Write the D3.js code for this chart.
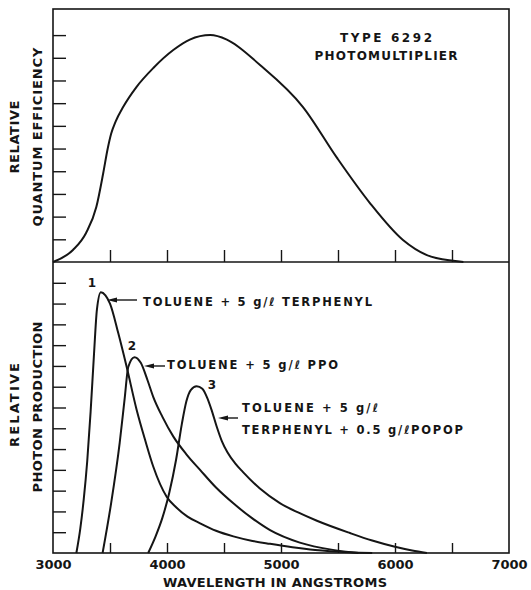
<!DOCTYPE html>
<html>
<head>
<meta charset="utf-8">
<script src="https://cdn.jsdelivr.net/npm/d3@7"></script>
<style>
  body { margin: 0; background: #fff; }
  text { font-family: "DejaVu Sans", sans-serif; font-weight: bold; fill: #151515; }
</style>
</head>
<body>
<div class="container"></div>
<script>
// photomultiplier response and scintillator spectra

var width = 531;
var height = 590;

// top panel: quantum efficiency of the 6292
var qeWave = [3000, 3175, 3290, 3380, 3440, 3480, 3510, 3550, 3615, 3730, 3880, 4055, 4200, 4380, 4525, 4816, 5193, 5490, 5780, 6070, 6280, 6510, 6600];
var qeValue = [0, 0.53, 1.28, 2.42, 3.9, 5.0, 5.65, 6.2, 6.83, 7.7, 8.55, 9.34, 9.8, 10, 9.8, 8.68, 6.83, 4.6, 2.6, 0.97, 0.3, 0.05, 0];

// bottom panel: photon production, curves 1-3
var wave1 = [3205, 3240, 3270, 3300, 3330, 3360, 3385, 3420, 3460, 3500, 3573, 3646, 3734, 3810, 3880, 3997, 4080, 4180, 4290, 4430, 4582, 4750, 4904, 5100, 5300, 5600, 5800];
var value1 = [0, 1.2, 2.6, 4.4, 6.8, 9.6, 11.7, 12.55, 12.4, 12.0, 10.57, 8.96, 6.88, 5.4, 4.15, 2.71, 2.2, 1.75, 1.43, 1.07, 0.8, 0.58, 0.44, 0.28, 0.15, 0.04, 0];

var wave2 = [3435, 3510, 3585, 3630, 3660, 3715, 3770, 3830, 3880, 3960, 4056, 4170, 4290, 4430, 4582, 4740, 4904, 5165, 5455, 5680];
var value2 = [0, 2.4, 5.3, 7.5, 8.95, 9.42, 9.15, 8.3, 7.5, 6.55, 5.6, 4.75, 4.0, 3.15, 2.39, 1.7, 1.1, 0.5, 0.15, 0];

var wave3 = [3835, 3900, 3960, 4020, 4080, 4130, 4170, 4210, 4260, 4310, 4350, 4390, 4435, 4480, 4530, 4600, 4665, 4815, 4990, 5150, 5315, 5605, 5800, 6000, 6150, 6280];
var value3 = [0, 0.8, 1.7, 2.9, 4.5, 6.2, 7.3, 7.85, 8.02, 7.9, 7.5, 6.9, 6.1, 5.4, 4.85, 4.3, 3.9, 3.1, 2.4, 1.95, 1.55, 0.96, 0.6, 0.3, 0.12, 0];

var xTickLabels = [3000, 4000, 5000, 6000, 7000];
var xMinorTicks = [3500, 4000, 4500, 5000, 5500, 6000, 6500];
var qeTicks = [1, 2, 3, 4, 5, 6, 7, 8, 9, 10];
var photonTicks = [1, 2, 3, 4, 5, 6, 7, 8, 9, 10, 11, 12, 13];

var svg = d3.select(".container").append("svg")
    .attr("width", width)
    .attr("height", height);

// frame edges (don't call these top/left, window.top is taken)
var fLeft = 53, fRight = 509, fTop = 9, fMid = 262, fBottom = 553;

var x = d3.scaleLinear().domain([3000, 7000]).range([fLeft, fRight]);
var yTop = d3.scaleLinear().domain([0, 11.15]).range([fMid, fTop]);
var yBot = d3.scaleLinear().domain([0, 14]).range([fBottom, fMid]);

var ink = "#151515";

// frame
svg.append("rect")
    .attr("x", fLeft).attr("y", fTop)
    .attr("width", fRight - fLeft).attr("height", fBottom - fTop)
    .attr("fill", "none").attr("stroke", ink).attr("stroke-width", 1.6);
svg.append("line")
    .attr("x1", fLeft).attr("x2", fRight).attr("y1", fMid).attr("y2", fMid)
    .attr("stroke", ink).attr("stroke-width", 1.6);

// inward ticks
function ticks(g) {
  g.select(".domain").remove();
  g.selectAll(".tick line").attr("stroke", ink).attr("stroke-width", 1.4);
}
svg.append("g").attr("transform", "translate(" + fLeft + ",0)")
    .call(d3.axisLeft(yTop).tickValues(qeTicks).tickSize(-13).tickFormat(""))
    .call(ticks);
svg.append("g").attr("transform", "translate(" + fLeft + ",0)")
    .call(d3.axisLeft(yBot).tickValues(photonTicks).tickSize(-13).tickFormat(""))
    .call(ticks);
svg.append("g").attr("transform", "translate(0," + fMid + ")")
    .call(d3.axisBottom(x).tickValues(xMinorTicks).tickSize(-12).tickFormat(""))
    .call(ticks);
svg.append("g").attr("transform", "translate(0," + fBottom + ")")
    .call(d3.axisBottom(x).tickValues(xMinorTicks).tickSize(-10).tickFormat(""))
    .call(ticks);

// x tick labels
var lab = svg.append("g").attr("transform", "translate(0," + fBottom + ")")
    .call(d3.axisBottom(x).tickValues(xTickLabels).tickSize(0).tickPadding(4).tickFormat(d3.format("d")));
lab.select(".domain").remove();
lab.selectAll("text")
    .attr("font-family", "DejaVu Sans").attr("font-weight", "bold")
    .attr("font-size", 13).attr("fill", ink)
    .attr("textLength", 36).attr("lengthAdjust", "spacing")
    .attr("dy", "0.9em");

// curves
var line = d3.line().curve(d3.curveMonotoneX);

function draw(wave, vals, y) {
  var pts = wave.map(function (w, i) { return [x(w), y(vals[i])]; });
  svg.append("path")
      .attr("d", line(pts))
      .attr("fill", "none")
      .attr("stroke", ink)
      .attr("stroke-width", 2)
      .attr("stroke-linejoin", "round");
}
draw(qeWave, qeValue, yTop);
draw(wave1, value1, yBot);
draw(wave2, value2, yBot);
draw(wave3, value3, yBot);

// texts
function label(txt, px, py, size, len, anchor, rot) {
  var t = svg.append("text")
      .attr("font-size", size)
      .attr("text-anchor", anchor || "start")
      .text(txt);
  if (rot) {
    t.attr("transform", "translate(" + px + "," + py + ") rotate(-90)");
  } else {
    t.attr("x", px).attr("y", py);
  }
  if (len) t.attr("textLength", len).attr("lengthAdjust", "spacing");
  return t;
}

label("TYPE 6292", 386, 42, 12, 92, "middle");
label("PHOTOMULTIPLIER", 386, 60, 12, 143, "middle");

label("RELATIVE", 19, 137, 13, 73, "middle", true);
label("QUANTUM EFFICIENCY", 42, 137, 13, 179, "middle", true);
label("RELATIVE", 19, 405, 13, 84, "middle", true);
label("PHOTON PRODUCTION", 42, 407, 13, 171, "middle", true);

label("WAVELENGTH IN ANGSTROMS", 275, 587, 13, 224, "middle");

label("1", 92, 287, 12, null, "middle");
label("2", 132, 350, 12, null, "middle");
label("3", 212, 389, 12, null, "middle");

label("TOLUENE + 5 g/\u2113 TERPHENYL", 143, 306, 11.5, 229);
label("TOLUENE + 5 g/\u2113 PPO", 167, 369, 11.5, 171);
label("TOLUENE + 5 g/\u2113", 242, 412, 11.5, 136);
label("TERPHENYL + 0.5 g/\u2113POPOP", 242, 434, 11.5, 221);

// arrows pointing at the curves
var arrows = [
  {x1: 107, x2: 137, y: 300},
  {x1: 144, x2: 165, y: 366},
  {x1: 218, x2: 238, y: 418}
];
arrows.forEach(function (a) {
  svg.append("line")
      .attr("x1", a.x1 + 6).attr("x2", a.x2)
      .attr("y1", a.y).attr("y2", a.y)
      .attr("stroke", ink).attr("stroke-width", 1.4);
  svg.append("path")
      .attr("d", "M" + a.x1 + "," + a.y + "L" + (a.x1 + 10) + "," + (a.y - 2.5) + "L" + (a.x1 + 10) + "," + (a.y + 2.5) + "Z")
      .attr("fill", ink);
});
</script>
</body>
</html>
